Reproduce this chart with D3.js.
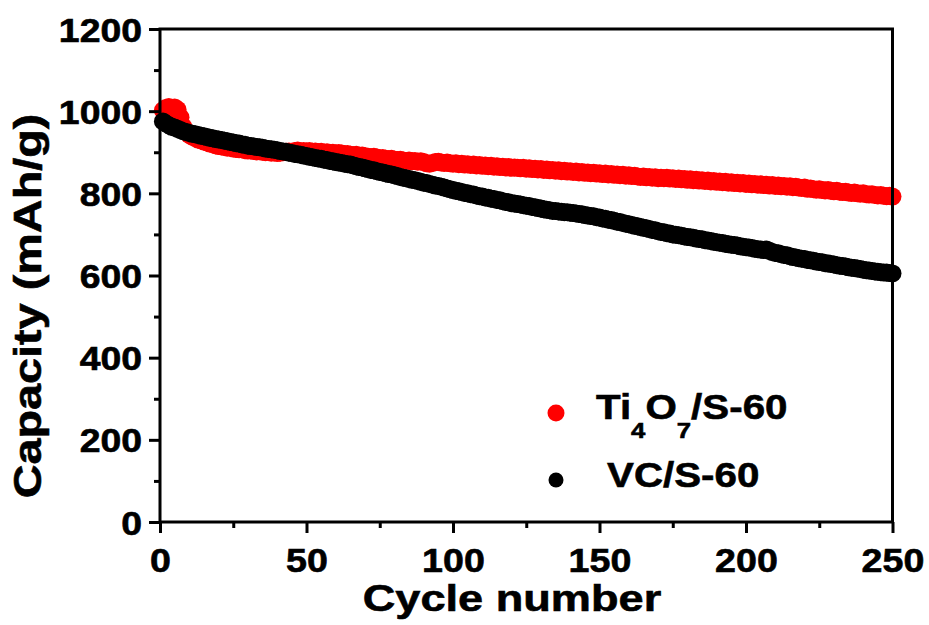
<!DOCTYPE html>
<html>
<head>
<meta charset="utf-8">
<script src="https://cdn.jsdelivr.net/npm/d3@7"></script>
<style>
  html, body { margin: 0; padding: 0; background: #fff; }
  svg { display: block; }
  text { font-family: "Liberation Sans", Arial, sans-serif; font-weight: bold; fill: #000; stroke: #000; stroke-width: 0.6px; }
</style>
</head>
<body>
<svg id="chart" width="929" height="625"></svg>
<script>
// ---------------- data ----------------
const seriesNames = ["Ti4O7/S-60", "VC/S-60"];
const xTicks = [0, 50, 100, 150, 200, 250];
const xMinorTicks = [25, 75, 125, 175, 225];
const yTicks = [0, 200, 400, 600, 800, 1000, 1200];
const yMinorTicks = [100, 300, 500, 700, 900, 1100];

// capacity per cycle (cycle 1..250)
const ti4o7 = [
  1002,1008,1010,1006,1009,1004,985,962,950,942,
  938,935,931,929,926,924,921,920,917,915,
  914,913,911,912,909,908,907,908,905,904,
  905,903,902,903,901,900,902,899,900,898,
  899,900,901,902,900,903,904,902,903,902,
  903,901,902,900,901,899,900,898,899,897,
  898,897,895,896,894,893,894,891,892,890,
  889,888,889,887,885,886,884,883,884,882,
  881,882,880,879,880,878,879,877,878,876,
  873,872,874,876,877,875,874,875,873,872,
  873,871,872,870,871,869,870,868,869,867,
  868,866,867,865,866,864,865,863,864,862,
  863,862,861,862,860,861,859,860,858,859,
  857,858,856,857,855,856,854,855,853,854,
  852,853,851,852,850,851,849,850,848,849,
  847,848,846,847,845,846,844,845,843,844,
  842,843,841,840,841,839,840,838,839,837,
  838,837,838,836,837,835,836,834,835,833,
  834,832,833,831,832,830,831,829,830,828,
  829,827,828,826,827,825,826,824,825,823,
  824,822,823,821,822,820,821,819,820,818,
  819,817,818,816,817,815,816,814,813,814,
  811,812,810,809,810,808,807,808,806,805,
  806,804,803,804,802,801,802,800,799,800,
  798,797,798,796,795,796,794,793,794,792
];
const vc = [
  975,970,966,962,960,957,954,951,949,947,
  945,944,942,940,939,937,935,934,932,931,
  930,928,927,925,924,922,921,919,918,916,
  915,914,913,912,911,909,908,907,906,905,
  903,902,901,899,898,896,895,894,892,891,
  889,888,886,885,884,882,881,879,878,876,
  875,874,872,871,870,868,866,864,863,861,
  859,857,856,854,852,851,849,847,846,844,
  842,840,838,837,835,833,832,830,828,826,
  825,823,821,819,818,816,814,812,810,808,
  806,805,803,801,800,798,797,795,793,792,
  790,789,787,786,784,783,781,779,778,776,
  775,774,773,771,770,769,767,766,764,763,
  761,760,759,757,757,756,755,754,754,753,
  752,751,750,749,747,746,745,744,742,741,
  739,738,736,735,733,731,730,728,726,725,
  723,721,720,718,716,715,713,711,710,708,
  706,705,703,702,700,699,698,697,695,694,
  693,692,690,689,688,686,685,684,682,681,
  680,679,677,676,675,674,673,671,670,669,
  668,667,665,664,663,662,663,660,657,655,
  654,652,650,649,647,645,644,642,641,640,
  638,637,636,634,633,632,630,629,628,627,
  625,624,623,622,620,619,618,617,616,614,
  613,612,611,610,609,608,607,607,606,605
];

// ---------------- layout ----------------
const svg = d3.select("#chart");
const L = 160, T = 29, W = 732.5, H = 493;
const SX = 1.2; // horizontal stretch of text

const x = d3.scaleLinear().domain([0, 250]).range([L, L + W]);
const y = d3.scaleLinear().domain([0, 1200]).range([T + H, T]);

// data points
const g = svg.append("g");
g.selectAll("circle.red").data(ti4o7).enter().append("circle")
  .attr("class", "red")
  .attr("cx", (d, i) => x(i + 1)).attr("cy", d => y(d))
  .attr("r", 9).attr("fill", "#ff0000");
g.selectAll("circle.blk").data(vc).enter().append("circle")
  .attr("class", "blk")
  .attr("cx", (d, i) => x(i + 1)).attr("cy", d => y(d))
  .attr("r", 9).attr("fill", "#000000");

// frame
svg.append("rect").attr("x", L).attr("y", T).attr("width", W).attr("height", H)
  .attr("fill", "none").attr("stroke", "#000").attr("stroke-width", 3);

// axes
function styleAxis(sel) {
  sel.select(".domain").remove();
  sel.selectAll("line").attr("stroke", "#000").attr("stroke-width", 3);
}
const xAxis = svg.append("g").attr("transform", `translate(0,${T + H})`)
  .call(d3.axisBottom(x).tickValues(xTicks).tickSize(11).tickFormat(d3.format("d")));
styleAxis(xAxis);
xAxis.selectAll("text")
  .attr("x", null).attr("y", null).attr("dy", null)
  .attr("transform", "translate(0,50) scale(1.14,1)")
  .attr("text-anchor", "middle")
  .style("font-size", "33px").style("font-family", null);
svg.append("g").attr("transform", `translate(0,${T + H})`)
  .call(d3.axisBottom(x).tickValues(xMinorTicks).tickSize(6).tickFormat(""))
  .call(styleAxis);

const yAxis = svg.append("g").attr("transform", `translate(${L},0)`)
  .call(d3.axisLeft(y).tickValues(yTicks).tickSize(11).tickFormat(d3.format("d")));
styleAxis(yAxis);
yAxis.selectAll("text")
  .attr("x", null).attr("y", null).attr("dy", null)
  .attr("transform", "translate(-18,12) scale(1.15,1)")
  .attr("text-anchor", "end")
  .style("font-size", "32.5px").style("font-family", null);
svg.append("g").attr("transform", `translate(${L},0)`)
  .call(d3.axisLeft(y).tickValues(yMinorTicks).tickSize(6).tickFormat(""))
  .call(styleAxis);
svg.selectAll(".tick text").attr("fill", "#000");

// axis titles
svg.append("text")
  .attr("transform", `translate(512,611) scale(1.22,1)`)
  .attr("text-anchor", "middle").style("font-size", "37px")
  .text("Cycle number");
svg.append("text")
  .attr("transform", `translate(41,306) rotate(-90) scale(${SX},1)`)
  .attr("text-anchor", "middle").style("font-size", "39px")
  .text("Capacity (mAh/g)");

// legend
const LS = 1.12;
svg.append("circle").attr("cx", 556).attr("cy", 413).attr("r", 8.5).attr("fill", "#ff0000");
svg.append("circle").attr("cx", 556).attr("cy", 480).attr("r", 7.5).attr("fill", "#000");
const t1 = svg.append("text")
  .attr("transform", `translate(596,419) scale(${LS},1)`)
  .style("font-size", "36px");
t1.append("tspan").text("Ti");
t1.append("tspan").attr("dy", 19).style("font-size", "23px").text("4");
t1.append("tspan").attr("dy", -19).text("O");
t1.append("tspan").attr("dy", 19).style("font-size", "23px").text("7");
t1.append("tspan").attr("dy", -19).text("/S-60");
svg.append("text")
  .attr("transform", `translate(607,487) scale(${LS},1)`)
  .style("font-size", "36px")
  .text(seriesNames[1]);
</script>
</body>
</html>
